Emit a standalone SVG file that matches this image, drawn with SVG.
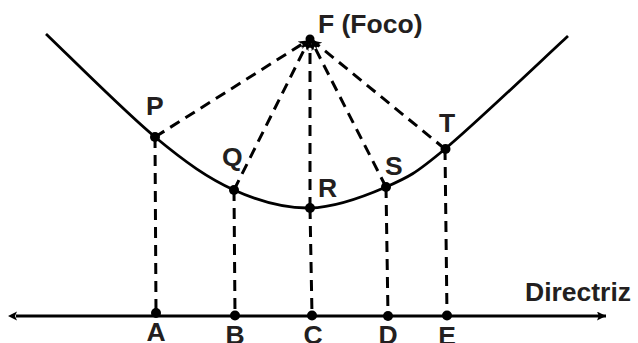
<svg xmlns="http://www.w3.org/2000/svg" width="638" height="343" viewBox="0 0 638 343">
<defs>
<style>
.lbl{font-family:"Liberation Sans",Arial,sans-serif;font-weight:bold;font-size:26.5px;fill:#231f20}
.dash{stroke:#000;stroke-width:3;stroke-dasharray:11 7;fill:none}
.ray{stroke:#000;stroke-width:3;stroke-dasharray:11 7;fill:none;marker-end:url(#ah)}
.dot{fill:#000}
</style>
<marker id="ah" markerUnits="userSpaceOnUse" viewBox="0 0 10 10" refX="9" refY="5" markerWidth="9" markerHeight="9" orient="auto">
<path d="M0,0 L10,5 L0,10 L3,5 z" fill="#000"/>
</marker>
<marker id="ahLine" markerUnits="userSpaceOnUse" viewBox="0 0 10 10" refX="10" refY="5" markerWidth="9" markerHeight="9" orient="auto">
<path d="M0,0 L10,5 L0,10 L2,5 z" fill="#000"/>
</marker>
</defs>
<g id="connectors">
<path id="directrix" d="M16,316 L606,316" stroke="#000" stroke-width="3" fill="none" marker-end="url(#ahLine)"/>
<path d="M17,311.5 L8,316 L17,320.5 L15,316 z" fill="#000"/>
<path id="parabola" d="M46,34 C64.2,51.2 123.7,111 155,137 C186.3,163 208.2,178.2 234,190 C259.8,201.8 284.7,208.5 310,208 C335.3,207.5 363.5,196.8 386,187 C408.5,177.2 414.7,174.2 445,149 C475.3,123.8 547.5,54.8 568,36" stroke="#000" stroke-width="2.8" fill="none"/>
<line class="ray" x1="155" y1="137" x2="307" y2="41"/>
<line class="ray" x1="234" y1="190" x2="308" y2="42"/>
<line class="ray" x1="310" y1="208" x2="310" y2="42"/>
<line class="ray" x1="386" y1="187" x2="312" y2="42"/>
<line class="ray" x1="445" y1="149" x2="313" y2="41"/>
<line class="dash" x1="155" y1="137" x2="156" y2="313"/>
<line class="dash" x1="234" y1="190" x2="235" y2="315"/>
<line class="dash" x1="310" y1="208" x2="312" y2="315"/>
<line class="dash" x1="386" y1="187" x2="388" y2="316"/>
<line class="dash" x1="445" y1="149" x2="447" y2="316"/>
</g>
<g id="F"><circle class="dot" cx="310" cy="39" r="4.5"/><text class="lbl" x="318" y="33">F (Foco)</text></g>
<g id="P"><circle class="dot" cx="155" cy="137" r="5"/><text class="lbl" x="146" y="115">P</text></g>
<g id="Q"><circle class="dot" cx="234" cy="190" r="5"/><text class="lbl" x="222" y="166">Q</text></g>
<g id="R"><circle class="dot" cx="310" cy="208" r="5"/><text class="lbl" x="318" y="197">R</text></g>
<g id="S"><circle class="dot" cx="386" cy="187" r="5"/><text class="lbl" x="385" y="175">S</text></g>
<g id="T"><circle class="dot" cx="445.5" cy="149" r="5"/><text class="lbl" x="439" y="132">T</text></g>
<g id="A"><circle class="dot" cx="156" cy="313" r="5"/><text class="lbl" x="156" y="341" text-anchor="middle">A</text></g>
<g id="B"><circle class="dot" cx="235" cy="315.5" r="5"/><text class="lbl" x="235" y="344" text-anchor="middle">B</text></g>
<g id="C"><circle class="dot" cx="312" cy="315.5" r="5"/><text class="lbl" x="313" y="344" text-anchor="middle">C</text></g>
<g id="D"><circle class="dot" cx="388" cy="316" r="5"/><text class="lbl" x="388" y="344" text-anchor="middle">D</text></g>
<g id="E"><circle class="dot" cx="447" cy="315.5" r="5"/><text class="lbl" x="447" y="345" text-anchor="middle">E</text></g>
<g id="directriz-label"><text class="lbl" x="525" y="301">Directriz</text></g>
</svg>
